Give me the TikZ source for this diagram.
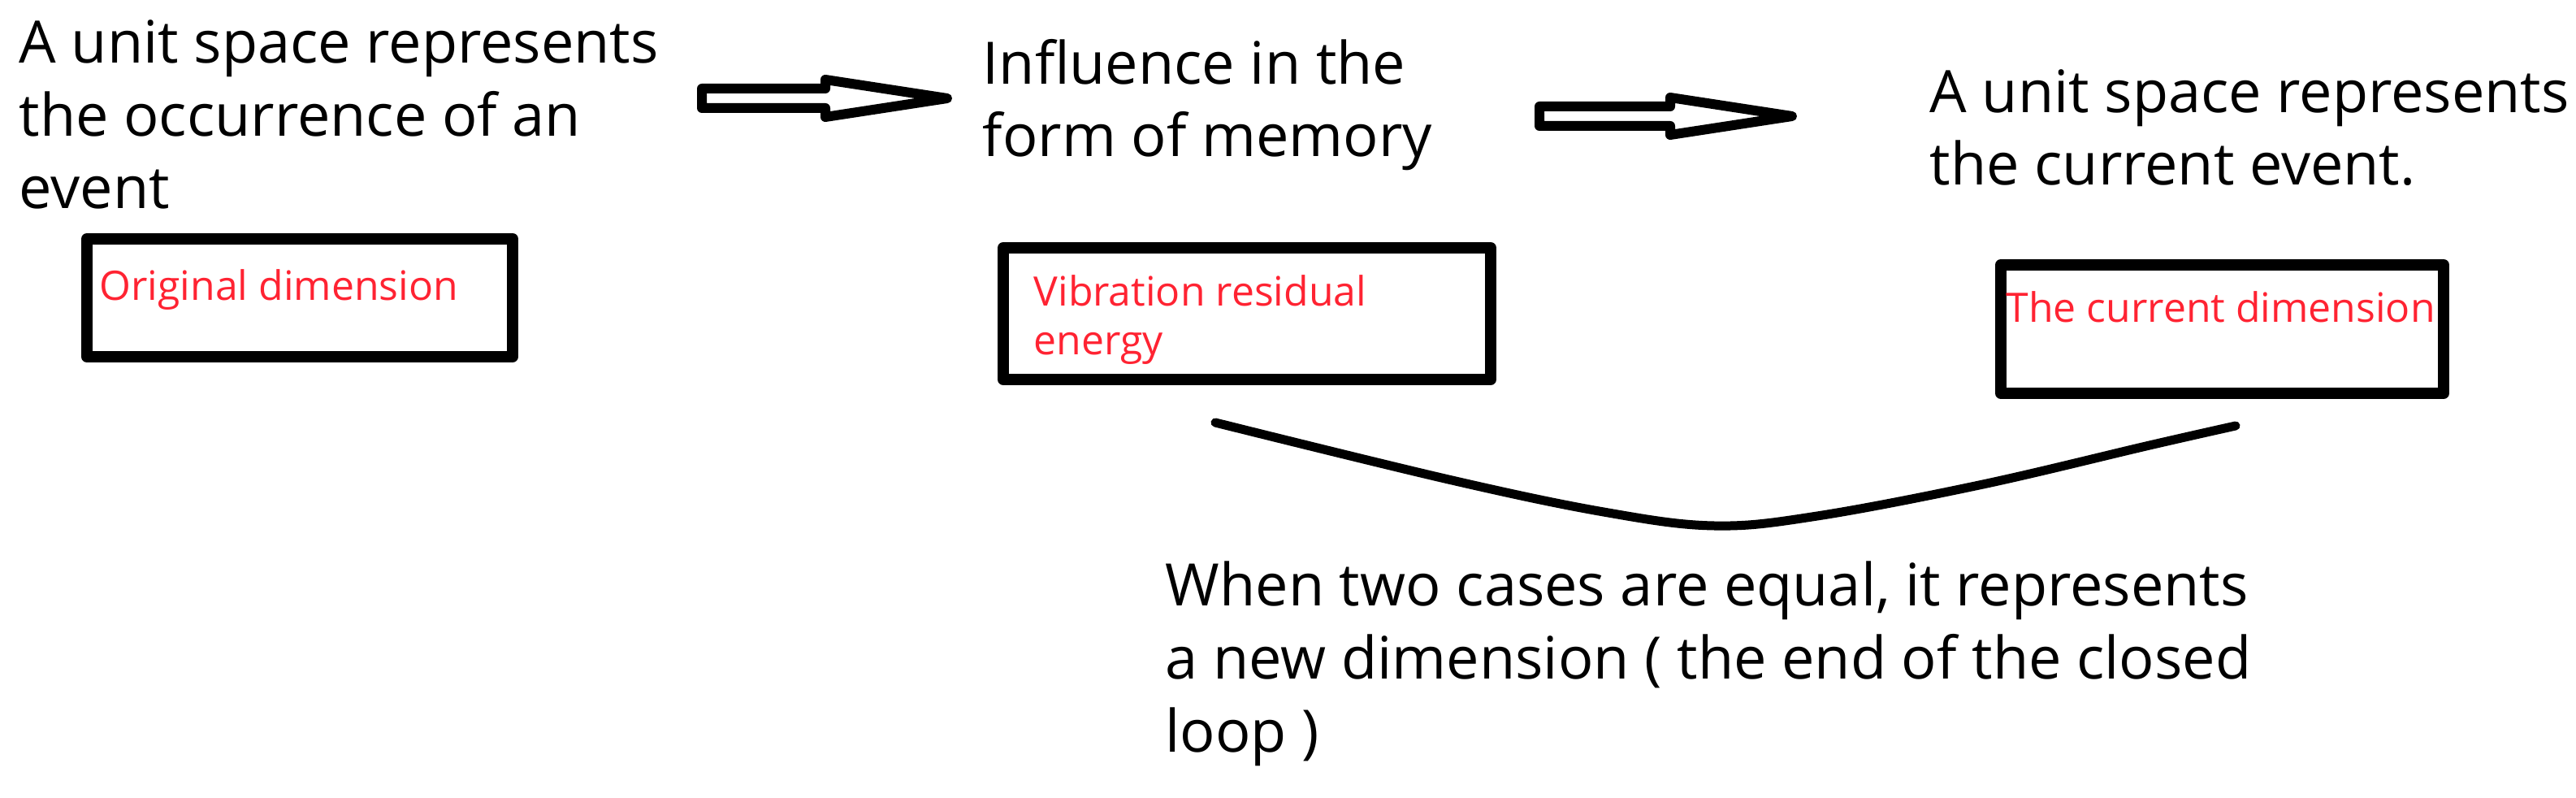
\documentclass[tikz,border=0pt]{standalone}
\usepackage{fontspec}
\setmainfont{Open Sans}
\usepackage{tikz}
\usetikzlibrary{calc}
\definecolor{labelred}{RGB}{255,35,50}
\tikzset{
	blacktext/.style={anchor=base west,align=left,inner sep=0pt,font=\fontsize{20.5pt}{25.6pt}\selectfont},
	redtext/.style={anchor=base west,align=left,inner sep=0pt,text=labelred,font=\fontsize{14.2pt}{17.1pt}\selectfont},
	dimbox/.style={draw,line width=0.14cm,inner sep=0pt},
	hollow/.style={draw,line width=0.12cm,fill=white}
}

\begin{document}
\begin{tikzpicture}[line cap=round,line join=round,x=1.0cm,y=1.0cm]
		\useasboundingbox (0,0) rectangle (31.71,-9.82);
		\node[blacktext] (event) at (0.23,-2.57) {A unit space represents\\the occurrence of an\\event};
		\node[blacktext] (memory) at (12.09,-1.93) {Influence in the\\form of memory};
		\node[blacktext] (current) at (23.75,-2.28) {A unit space represents\\the current event.};
		\node[dimbox,minimum width=5.24cm,minimum height=1.45cm] (orig) at (3.69,-3.665) {};
		\node[dimbox,minimum width=6.00cm,minimum height=1.62cm] (vib) at (15.35,-3.86) {};
		\node[dimbox,minimum width=5.45cm,minimum height=1.58cm] (curdim) at (27.355,-4.05) {};
		\node[redtext] (origlabel) at (1.22,-3.70) {Original dimension};
		\node[redtext] (viblabel) at (12.72,-4.37) {Vibration residual\\energy};
		\node[redtext] (curlabel) at (24.69,-3.97) {The current dimension};
		\coordinate (a1s) at (8.64,-1.21);
		\coordinate (a1t) at (11.66,-1.21);
		\coordinate (a2s) at (18.95,-1.43);
		\coordinate (a2t) at (22.06,-1.43);
		\foreach \s/\t in {a1s/a1t,a2s/a2t}
			\draw[hollow] ($(\s)+(0,0.12)$) -- ($(\t)+(-1.5,0.12)$) -- ($(\t)+(-1.5,0.23)$) -- (\t) -- ($(\t)+(-1.5,-0.23)$) -- ($(\t)+(-1.5,-0.12)$) -- ($(\s)+(0,-0.12)$) -- cycle;
		\draw[line width=0.11cm] plot[smooth,tension=0.6] coordinates {(14.96,-5.20) (17.83,-5.90) (19.74,-6.30) (21.10,-6.47) (22.37,-6.35) (24.41,-5.96) (26.46,-5.48) (27.52,-5.24)};
		\node[blacktext] (newdim) at (14.34,-9.25) {When two cases are equal, it represents\\a new dimension ( the end of the closed\\loop )};
\end{tikzpicture}
\end{document}
